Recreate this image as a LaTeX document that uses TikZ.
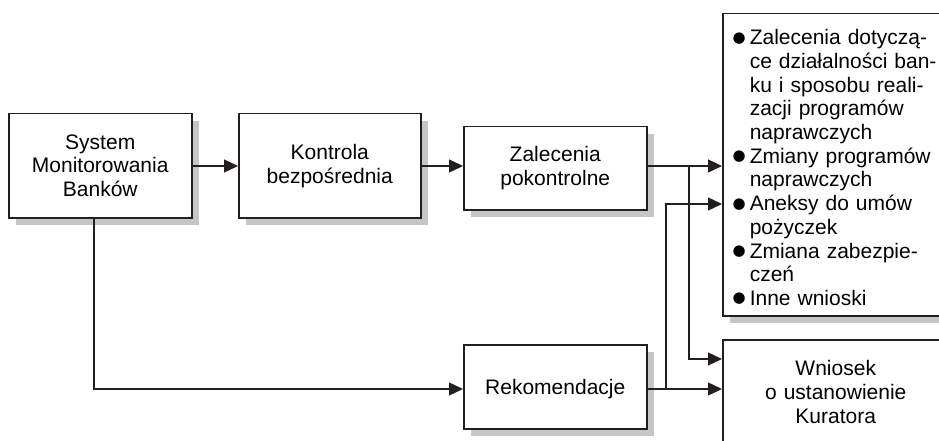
\documentclass[tikz,border=0pt]{standalone}
\usepackage{fontspec}
\setmainfont{Liberation Sans}
\newfontfamily\symfont{DejaVu Sans}
\usetikzlibrary{arrows.meta,shadows}
\definecolor{inkc}{HTML}{231F20}
\definecolor{shadowc}{HTML}{C6C6C6}
% hanging bullet for the list of measures
\newcommand\itembullet{\leavevmode\llap{\raisebox{2.5pt}{\symfont\fontsize{15}{15}\selectfont ●}\hspace{4pt}}}

\begin{document}
\begin{tikzpicture}[x=1pt,y=-1pt,
  box/.style={draw=inkc, line width=1.5pt, fill=white, inner sep=0pt, anchor=north west,
    drop shadow={shadow xshift=7pt, shadow yshift=-7pt, fill=shadowc, opacity=1}},
  boxtext/.style={font=\fontsize{21}{23.7}\selectfont, align=center, text width=#1},
  listtext/.style={font=\fontsize{21}{23.7}\selectfont, align=left, text width=186pt},
  arr/.style={draw=inkc, line width=1.3pt, -{Triangle[length=14pt,width=13pt]}}]

\useasboundingbox (0,0) rectangle (939,441);
\fill[white] (0,0) rectangle (939,441);
\clip (0,0) rectangle (939,441);

% process boxes
\node[box, boxtext=170pt, minimum width=183pt, minimum height=104pt] (sys) at (8,113)
  {System\\Monitorowania\\Banków};
\node[box, boxtext=170pt, minimum width=182pt, minimum height=104pt] (kon) at (238,113)
  {Kontrola\\bezpośrednia};
\node[box, boxtext=170pt, minimum width=183pt, minimum height=83pt] (zal) at (463,126)
  {Zalecenia\\pokontrolne};
\node[box, boxtext=170pt, minimum width=183pt, minimum height=84pt, text depth=0pt] (rek) at (463,344)
  {Rekomendacje};

% outcome boxes (running off the right edge)
\node[box, listtext, inner xsep=27pt, inner ysep=0pt, text height=31pt, text depth=271pt] (recs) at (722,13)
  {\itembullet Zalecenia dotyczą-\\
   \mbox{ce działalności ban-}\\
   ku i sposobu reali-\\
   zacji programów\\
   naprawczych\\
   \itembullet Zmiany programów\\
   naprawczych\\
   \itembullet Aneksy do umów\\
   pożyczek\\
   \itembullet Zmiana zabezpie-\\
   czeń\\
   \itembullet Inne wnioski};
\node[box, boxtext=200pt, minimum width=226pt, text height=36pt, text depth=110pt] (wn) at (722,339)
  {Wniosek\\o ustanowienie\\Kuratora};

% branch points
\coordinate (j1) at (689,166);
\coordinate (j2) at (666,389);

% connectors
\draw[arr] (sys.east |- 0,166) -- (kon.west |- 0,166);
\draw[arr] (kon.east |- 0,166) -- (zal.west |- 0,166);
\draw[arr] (zal.east |- 0,166) -- (recs.west |- 0,166);
\draw[arr] (j1) -- (j1 |- 0,359) -- (wn.west |- 0,359);
\draw[arr] (sys.south -| 94,0) -- (94,389) -- (rek.west |- 0,389);
\draw[arr] (rek.east |- 0,389) -- (wn.west |- 0,389);
\draw[arr] (j2) -- (j2 |- 0,204) -- (recs.west |- 0,204);
\end{tikzpicture}
\end{document}
